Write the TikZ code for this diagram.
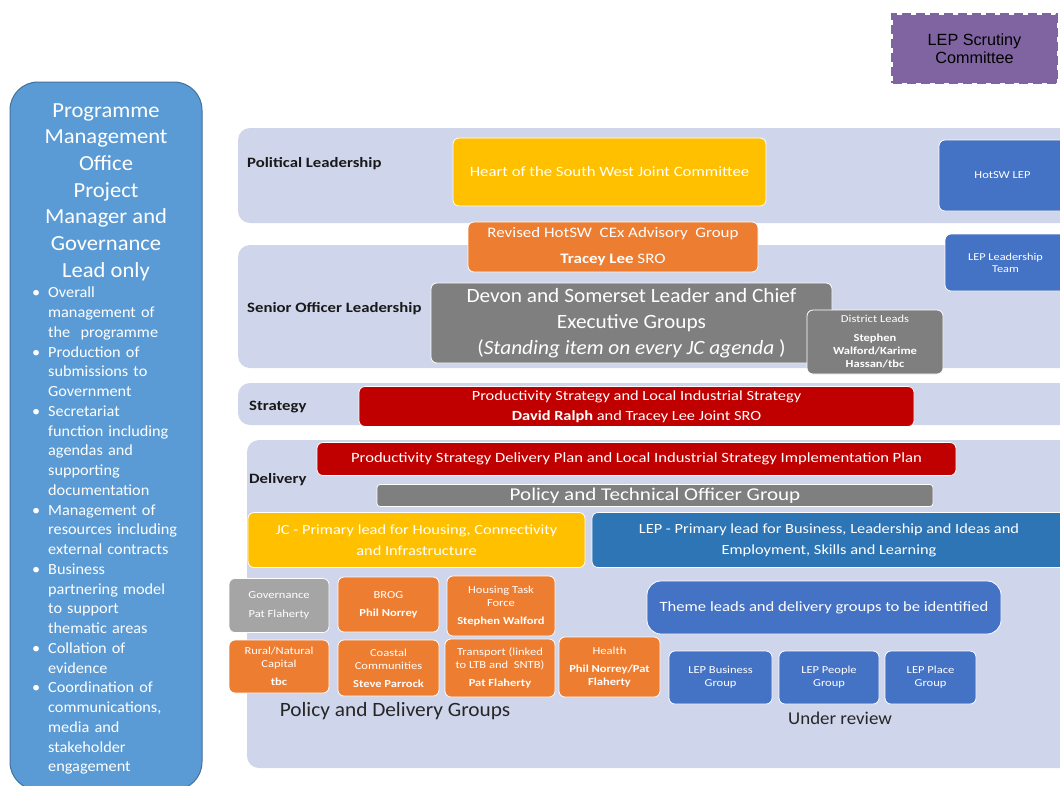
\documentclass[tikz,border=0pt]{standalone}
\usepackage{fontspec}
\setmainfont{Carlito}[FakeStretch=1.05]
\newfontfamily\widefont{Carlito}[FakeStretch=1.17]
\newfontfamily\arialfont{Liberation Sans}
\usetikzlibrary{shapes}

\definecolor{bandblue}{HTML}{CFD5EA}
\definecolor{pmoblue}{HTML}{5B9BD5}
\definecolor{pmoline}{HTML}{41719C}
\definecolor{jcyellow}{HTML}{FFC000}
\definecolor{cexorange}{HTML}{ED7D31}
\definecolor{lepblue}{HTML}{4472C4}
\definecolor{leadblue}{HTML}{2E75B6}
\definecolor{officergray}{HTML}{7F7F7F}
\definecolor{govgray}{HTML}{A5A5A5}
\definecolor{stratred}{HTML}{C00000}
\definecolor{scrutinypurple}{HTML}{8064A2}

\newcommand\pmoitem{\par\hangindent=16pt\hangafter=1\noindent\makebox[16pt][l]{\textbullet}}

\tikzset{
  band/.style={fill=bandblue, rounded corners=12pt, inner sep=0pt},
  unit/.style={draw=white, line width=0.8pt, rounded corners=6pt, text=white, align=center, inner sep=2pt},
  dims/.style 2 args={minimum width=#1pt, minimum height=#2pt},
  wide/.style 2 args={font=\widefont\fontsize{#1}{#2}\selectfont},
  tier/.style={font=\widefont\fontsize{14.3}{17}\selectfont\bfseries, text=black!90, anchor=west, inner sep=0pt},
  small/.style={wide={10.7}{13}},
  group/.style={unit, fill=cexorange, small},
}

\begin{document}
\begin{tikzpicture}[x=1pt, y=-1pt]
  \useasboundingbox (0,0) rectangle (1060,785);

  % programme management office
  \node[fill=pmoblue, draw=pmoline, line width=1pt, rounded corners=28pt, dims={192}{708}] (pmo) at (106,436) {};
  \node[text=white, align=center, font=\fontsize{21.5}{26.7}\selectfont, anchor=north, inner sep=0pt] (pmohead) at (106,103)
    {Programme\\Management\\Office\\Project\\Manager and\\Governance\\Lead only};
  \node[text=white, text width=160pt, align=left, font=\fontsize{15.5}{19.75}\selectfont, anchor=north west, inner sep=0pt] (pmolist) at (32,278)
    {\pmoitem Overall\newline management of\newline the\ \ programme
     \pmoitem Production of\newline submissions to\newline Government
     \pmoitem Secretariat\newline function including\newline agendas and\newline supporting\newline documentation
     \pmoitem Management of\newline resources including\newline external contracts
     \pmoitem Business\newline partnering model\newline to support\newline thematic areas
     \pmoitem Collation of\newline evidence
     \pmoitem Coordination of\newline communications,\newline media and\newline stakeholder\newline engagement\par};

  % scrutiny
  \node[fill=scrutinypurple, draw=scrutinypurple, line width=3pt, dash pattern=on 9pt off 5pt, dims={164}{68},
        align=center, font=\arialfont\fontsize{16.2}{18}\selectfont, text=black] (scrutiny) at (974.5,48.5) {LEP Scrutiny\\Committee};

  % bands
  \node[band, dims={837}{95}] (political) at (656.5,175.5) {};
  \node[band, dims={837}{123}] (senior) at (656.5,306.5) {};
  \node[band, dims={837}{42}] (strategy) at (656.5,404) {};
  \node[band, dims={828}{328}] (delivery) at (661,604) {};

  \node[tier] (politicallbl) at (247,164) {Political Leadership};
  \node[tier] (seniorlbl) at (247,309) {Senior Officer Leadership};
  \node[tier] (strategylbl) at (249,407) {Strategy};
  \node[tier] (deliverylbl) at (249,480) {Delivery};

  % political leadership
  \node[unit, fill=jcyellow, dims={313}{68}, wide={14.3}{18}] (jc) at (609.5,172) {Heart of the South West Joint Committee};
  \node[unit, fill=lepblue, dims={127}{71}, wide={10.7}{12}] (hotswlep) at (1002.5,175.5) {HotSW LEP};

  % senior officer leadership
  \node[unit, fill=officergray, dims={401}{80}, font=\fontsize{20.3}{26}\selectfont] (devon) at (631.5,323)
    {Devon and Somerset Leader and Chief\\Executive Groups\\(\textit{Standing item on every JC agenda} )};
  \node[unit, fill=officergray, dims={136}{64}, small] (district) at (875,342)
    {District Leads\\[6pt]\textbf{Stephen}\\\textbf{Walford/Karime}\\\textbf{Hassan/tbc}};
  \node[unit, fill=cexorange, dims={290}{50}, wide={14.5}{18}] (cex) at (613,247)
    {Revised HotSW\ \ CEx Advisory\ \ Group\\[8pt]\textbf{Tracey Lee} SRO};
  \node[unit, fill=lepblue, dims={121}{57}, wide={10.5}{12}] (leptm) at (1005.5,262.5) {LEP Leadership\\Team};

  % strategy
  \node[unit, fill=stratred, dims={555}{40}, wide={14}{20}] (prodstrat) at (636.5,406.5)
    {Productivity Strategy and Local Industrial Strategy\\\textbf{David Ralph} and Tracey Lee Joint SRO};

  % delivery
  \node[unit, fill=stratred, dims={639}{33}, wide={14.2}{18}] (prodplan) at (636.5,459)
    {Productivity Strategy Delivery Plan and Local Industrial Strategy Implementation Plan};
  \node[unit, fill=officergray, dims={556}{22}, rounded corners=3pt, inner sep=0pt, wide={18}{20}] (ptog) at (655,495.5)
    {Policy and Technical Officer Group};
  \node[unit, fill=jcyellow, dims={337}{55}, wide={14}{21}] (jclead) at (416.5,540)
    {JC - Primary lead for Housing, Connectivity\\and Infrastructure};
  \node[unit, fill=leadblue, dims={474}{55}, wide={14}{21}] (leplead) at (829,540)
    {LEP - Primary lead for Business, Leadership and Ideas and\\Employment, Skills and Learning};

  \node[unit, fill=govgray, small, dims={100}{54}] (gov) at (279,605.5) {Governance\\[6pt]Pat Flaherty};
  \node[group, dims={101}{55}] (brog) at (388.5,604.5) {BROG\\[5pt]\textbf{Phil Norrey}};
  \node[group, dims={108}{60}] (housing) at (501,606) {Housing Task\\Force\\[5pt]\textbf{Stephen Walford}};
  \node[group, dims={100}{53}] (rural) at (279,666.5) {Rural/Natural\\Capital\\[5pt]\textbf{tbc}};
  \node[group, dims={101}{56}] (coastal) at (388.5,668) {Coastal\\Communities\\[5pt]\textbf{Steve Parrock}};
  \node[group, dims={110}{58}] (transport) at (500,668) {Transport (linked\\to LTB and\ \ SNTB)\\[5pt]\textbf{Pat Flaherty}};
  \node[group, dims={101}{60}] (health) at (609.5,667) {Health\\[5pt]\textbf{Phil Norrey/Pat}\\\textbf{Flaherty}};
  \node[font=\fontsize{20.3}{22}\selectfont, text=black!85] (pdg) at (395,711) {Policy and Delivery Groups};

  \node[unit, fill=lepblue, dims={354}{53}, rounded corners=14pt, wide={14.2}{17}] (theme) at (824,607.5)
    {Theme leads and delivery groups to be identified};
  \foreach \name/\cx/\w/\what in {lepbiz/720.5/103/Business, leppeople/829/100/People, lepplace/930.5/91/Place}
    \node[unit, fill=lepblue, small, dims={\w}{53}] (\name) at (\cx,677.5) {LEP \what\\Group};
  \node[font=\fontsize{18}{21}\selectfont, text=black!85] (review) at (840,718) {Under review};
\end{tikzpicture}
\end{document}
